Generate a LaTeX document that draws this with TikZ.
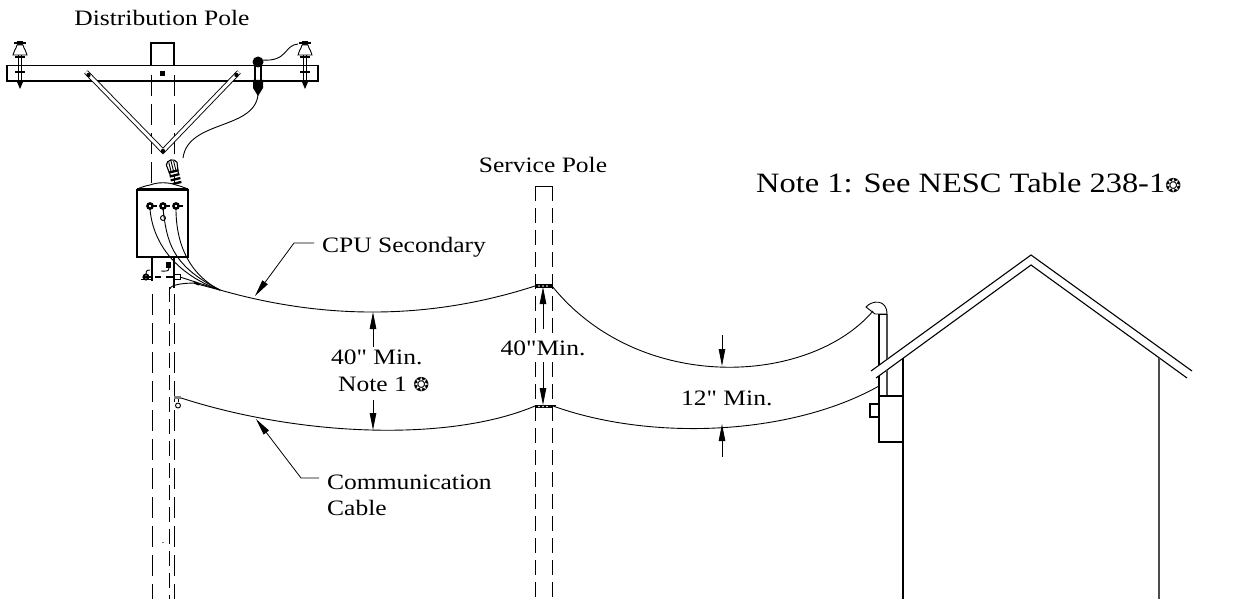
\documentclass[tikz,border=0pt]{standalone}
\usepackage{fontspec}
\newfontfamily\labelfont[FakeStretch=1.16]{Liberation Serif}
\newfontfamily\symfont{DejaVu Sans}
\usetikzlibrary{arrows.meta,positioning}
\newcommand{\notestar}{{\symfont\fontsize{19}{19}\selectfont ❂}}
\tikzset{
  wire/.style={line width=.9pt},
  outline/.style={line width=1.1pt},
  hidden/.style={line width=1pt,dash pattern=on 21pt off 8pt},
  hiddenshort/.style={line width=.85pt,dash pattern=on 15pt off 7pt},
  dimarrow/.style={line width=.8pt,-{Triangle[length=17pt,width=6.5pt]}},
  lbl/.style={font=\labelfont\fontsize{22}{26}\selectfont,inner sep=0pt,align=left},
  brace/.style={double,double distance=3pt,line width=.9pt,line join=miter},
  insulator/.pic={
    \draw[line width=1.4pt] (-1.5,-22) -- (-1.5,12) (1.5,-22) -- (1.5,12);
    \draw[line width=2.5pt] (-6,-29) -- (6,-29);
    \fill (-3,-31) rectangle (3,-27);
    \draw[wire,fill=white] (-3,-27) .. controls (-4,-22) and (-7,-21) .. (-7,-17) -- (7,-17) .. controls (7,-21) and (4,-22) .. (3,-27) -- cycle;
    \draw[line width=2pt] (-5,-15) -- (5,-15);
    \draw[line width=2pt] (-5,0) -- (5,0);
    \fill (-3,10) -- (3,10) -- (0,17) -- cycle;
  }
}
\begin{document}
\begin{tikzpicture}[x=1pt,y=-1pt]
\useasboundingbox (0,0) rectangle (1241,599);
% distribution pole
\draw[outline] (7,65.5) rectangle (318,81);
\draw[outline] (151,65.5) -- (151,43) -- (174,43) -- (174,65.5);
\draw[hidden] (151,75) -- (151,190);
\draw[hidden] (174,75) -- (174,190);
\fill (160,71) rectangle (165,76);
\draw[brace] (86,72) -- (163,151) -- (239,72);
\fill (88.5,75) circle (2.2pt) (236.5,75) circle (2.2pt) (163,151) circle (2.2pt);
\pic at (20,72) {insulator};
\pic at (305,72) {insulator};
% cutout
\draw[outline] (255,62) -- (255,82) (261,62) -- (261,82);
\fill (258,62) circle (5.5pt);
\fill (253,80) -- (263,80) -- (263,88) -- (258,96) -- (253,88) -- cycle;
\coordinate (jumperA) at (262,60);
\coordinate (jumperB) at (298,44);
\draw[wire] (jumperA) .. controls (288,62) and (284,45) .. (jumperB);
\coordinate (cutoutEnd) at (258,95);
\coordinate (bushingTop) at (183,158);
\draw[wire] (cutoutEnd) .. controls (254,130) and (188,120) .. (bushingTop);
% bushing on the tank
\begin{scope}[shift={(177,185)},rotate=14]
\draw[line width=1.1pt,fill=white] (-4,-10) -- (-5.5,-22) .. controls (-4,-27) and (4,-27) .. (5.5,-22) -- (4,-10) -- cycle;
\foreach \h in {-2,-6,-10,-14} \draw[line width=2.3pt] (-5,\h) -- (5,\h);
\draw[wire] (0,-14) -- (0,-26) (-2.5,-14) -- (-2.5,-24) (2.5,-14) -- (2.5,-24);
\end{scope}
% transformer
\node[draw,line width=1.3pt,minimum width=51pt,minimum height=67pt,inner sep=0pt,fill=white] (tank) at (162.5,223.5) {};
\fill[white] (137,190) -- (147,186) .. controls (157,181) and (168,181) .. (178,186) -- (188,190) -- cycle;
\draw[wire] (137,189) .. controls (145,186) .. (150,185) .. controls (158,182) and (168,182) .. (176,185) .. controls (180,186) .. (188,189);
\draw[line width=2.8pt] (137,189.5) -- (188,189.5);
\foreach \name/\xb in {bushA/150,bushB/163,bushC/176} {
  \draw[line width=2.4pt,fill=white] (\xb,206) circle (2.6pt);
  \draw[line width=1.6pt] (\xb+3,206) -- (\xb+7,206);
  \coordinate (\name) at (\xb,209);
}
\draw[wire] (163,209) -- (163,215);
\draw[wire,fill=white] (163,218) circle (2.5pt);
\coordinate (span) at (220,290);
\draw[wire] (bushA) .. controls (153,245) and (178,275) .. (span);
\draw[wire] (bushB) .. controls (167,240) and (170,265) .. (span);
\draw[wire] (bushC) .. controls (176,245) and (190,275) .. (span);
% below the tank
\draw[outline] (152,257) -- (152,281);
\draw[outline] (174,257) -- (174,288);
\draw[hidden] (152,294) -- (152,599);
\draw[hidden] (174,294) -- (174,599);
\draw[hiddenshort] (169,287) -- (169,599);
\fill (163,542.5) circle (.6pt);
\fill (166,262) rectangle (171,268);
\draw[wire] (169,268) .. controls (169,272) and (165,271) .. (161,271);
\draw[wire] (150,270) .. controls (146,270) and (146,272) .. (146,274);
\draw[line width=1.8pt,fill=white] (146,277) circle (2.6pt);
\fill (141,279) rectangle (152,279.6);
\draw[line width=2pt] (143,277) -- (151,277) (155,277) -- (161,277) (166,277) -- (173,277);
\draw[wire,fill=white] (174,274.5) rectangle (180,279.5);
\draw[wire] (180,277) -- (span);
\coordinate (neutralA) at (170,289);
\coordinate (neutralB) at (196,283);
\draw[wire] (neutralA) .. controls (170,285) and (182,283) .. (neutralB);
\draw[line width=2.2pt] (194,282.5) -- (199,284.5);
\draw[wire] (199,284.5) -- (span);
% service pole
\draw[hiddenshort] (535,186) -- (535,599);
\draw[hiddenshort] (552,186) -- (552,599);
\draw[wire] (535,186) -- (552,186);
\fill (535,284) rectangle (552,288);
\fill (535,405) rectangle (552,408);
\draw[wire] (552,405) -- (556,405);
\foreach \xb in {539,543,547} {
  \fill[white] (\xb,286) circle (.9pt);
  \fill[white] (\xb,406.5) circle (.9pt);
}
% spans
\coordinate (secPole) at (535,286);
\coordinate (secPoleR) at (552,286);
\coordinate (head) at (873,311);
\coordinate (commStart) at (178,397);
\coordinate (commPole) at (535,406);
\coordinate (commPoleR) at (553,406);
\coordinate (commHouse) at (879,386);
\draw[wire] (span) .. controls (325,320) and (430,320) .. (secPole);
\draw[wire] (secPoleR) .. controls (640,395) and (810,385) .. (head);
\draw[wire] (commStart) .. controls (300,437) and (450,442) .. (commPole);
\draw[wire] (commPoleR) .. controls (650,441) and (790,436) .. (commHouse);
\fill[gray] (174,396) rectangle (181,399);
\draw[wire] (178,399) -- (178,402);
\draw[wire,fill=white] (178,405.5) circle (2.5pt);
% house
\coordinate (apexOut) at (1031,255);
\coordinate (apexIn) at (1031,265);
\draw[outline] (871,371) -- (apexOut) -- (1192,371);
\draw[outline] (876,378) -- (apexIn) -- (1187,378);
\draw[outline] (903,358) -- (903,599);
\draw[line width=1.3pt,black!70] (1159,358) -- (1159,599);
\draw[outline] (879,314) -- (879,365);
\draw[outline] (879,376) -- (879,396);
\draw[line width=1.2pt,black!70] (887,314) -- (887,359);
\draw[line width=1.2pt,black!70] (887,370) -- (887,396);
\draw[wire] (879,314) -- (887,314);
\draw[wire] (866,307) .. controls (872,300) and (887,299) .. (887,314) -- (875,314) -- cycle;
\draw[outline] (879,396) rectangle (903,442);
\draw[outline] (870,404) rectangle (879,417);
% dimensions
\coordinate (dimA) at (373,347);
\coordinate (dimAtip) at (373,312);
\coordinate (dimB) at (373,400);
\coordinate (dimBtip) at (373,430);
\coordinate (dimC) at (543,329);
\coordinate (dimCtip) at (543,287);
\coordinate (dimD) at (543,362);
\coordinate (dimDtip) at (543,405);
\coordinate (dimE) at (722,335);
\coordinate (dimEtip) at (722,366);
\coordinate (dimF) at (722,457);
\coordinate (dimFtip) at (722,424);
\foreach \from/\to in {dimA/dimAtip,dimB/dimBtip,dimC/dimCtip,dimD/dimDtip,dimE/dimEtip,dimF/dimFtip}
  \draw[dimarrow] (\from) -- (\to);
% labels
\node[lbl] (distLabel) at (162,18) {Distribution Pole};
\node[lbl] (servLabel) at (543,165) {Service Pole};
\node[lbl,anchor=west,font=\labelfont\fontsize{28}{30}\selectfont] (noteLabel) at (756,183) {Note 1: See NESC Table 238-1\notestar};
\node[lbl,anchor=west] (cpuLabel) at (322,247) {CPU Secondary};
\node[lbl,anchor=west] (commLabel) at (327,495) {Communication\\Cable};
\node[lbl,anchor=west] (clearA) at (331,357) {40" Min.};
\node[lbl,anchor=west] (noteA) at (338,384) {Note 1 \notestar};
\node[lbl,fill=white,inner ysep=2pt] (clearB) at (543,348) {40"Min.};
\node[lbl,anchor=west] (clearC) at (681,398) {12" Min.};
\draw[dimarrow] (cpuLabel.west) ++(-8,-4) coordinate (cpuEnd) -- (294,243) -- (255,296);
\draw[dimarrow] (commLabel.west) ++(-8,-17) coordinate (commEnd) -- (301,478) -- (256,419);
\end{tikzpicture}
\end{document}
